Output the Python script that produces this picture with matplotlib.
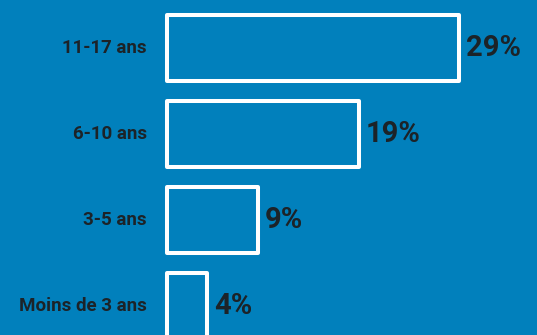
import matplotlib.pyplot as plt

plt.rcParams['font.family'] = ['Roboto', 'DejaVu Sans']

categories = ['11-17 ans', '6-10 ans', '3-5 ans', 'Moins de 3 ans']
values = [29, 19, 9, 4]
value_labels = ['29%', '19%', '9%', '4%']

bg = '#0180bc'
txt = '#1c2328'

fig = plt.figure(figsize=(5.37, 3.35), dpi=100)
fig.patch.set_facecolor(bg)
ax = fig.add_axes([0, 0, 1, 1])
ax.set_facecolor(bg)

# pixel layout: bar left edge at 167px, ~10.05 px per %, bars 86px apart
px = 10.08
ax.set_xlim(-167 / px, (537 - 167) / px)
ax.set_ylim((335 - 48) / 86, -48 / 86)
ax.axis('off')

h = 66 / 86
for i, (v, lab, vl) in enumerate(zip(values, categories, value_labels)):
    ax.barh(i, v, height=h, left=0, align='center', color=bg,
            edgecolor='white', linewidth=2.9, joinstyle='round')
    ax.text(-20 / px, i, lab, ha='right', va='center', fontsize=13.5,
            fontweight='bold', color=txt)
    ax.text(v + 7 / px, i, vl, ha='left', va='center', fontsize=21,
            fontweight='bold', color=txt)

fig.savefig('out.png', dpi=100, facecolor=bg)
